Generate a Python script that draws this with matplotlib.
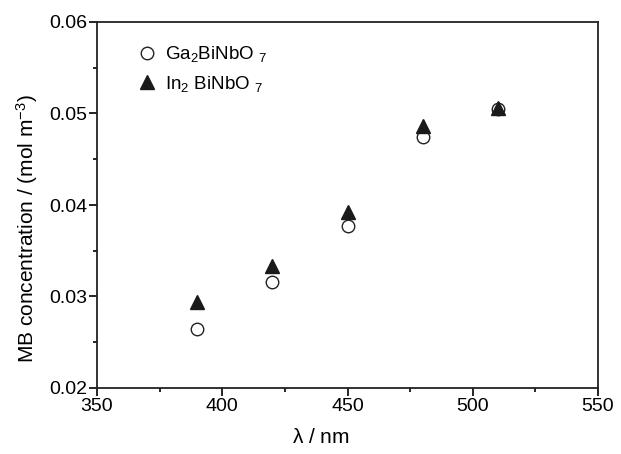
import numpy as np
import matplotlib
matplotlib.use("Agg")
import matplotlib.pyplot as plt
from matplotlib.ticker import MultipleLocator

plt.rcParams['font.family'] = ['Liberation Sans', 'DejaVu Sans']
plt.rcParams['mathtext.fontset'] = 'custom'
plt.rcParams['mathtext.rm'] = 'Liberation Sans'
plt.rcParams['mathtext.it'] = 'Liberation Sans'
plt.rcParams['mathtext.default'] = 'regular'

# wavelength (nm)
wavelength = [390, 420, 450, 480, 510]
# MB concentration (mol m^-3)
ga_conc = [0.0265, 0.0316, 0.0377, 0.0474, 0.0505]
in_conc = [0.0294, 0.0333, 0.0392, 0.0486, 0.0506]

fig = plt.figure(figsize=(6.21, 4.54), dpi=100)
ax = fig.add_axes([97 / 621, 1 - 388 / 454, 501 / 621, 366 / 454])

ax.plot(wavelength, ga_conc, 'o', ms=9, mfc='white', mec='#222222', mew=1.0,
        label=r'Ga$_2$BiNbO $_7$')
ax.plot(wavelength, in_conc, '^', ms=10.5, color='#1a1a1a',
        label=r'In$_2$ BiNbO $_7$')

ax.set_xlim(350, 550)
ax.set_ylim(0.02, 0.06)
ax.xaxis.set_major_locator(MultipleLocator(50))
ax.xaxis.set_minor_locator(MultipleLocator(25))
ax.yaxis.set_major_locator(MultipleLocator(0.01))
ax.yaxis.set_minor_locator(MultipleLocator(0.005))
ax.set_yticklabels(['%.2f' % v for v in ax.get_yticks()])

ax.tick_params(which='major', direction='out', length=6, width=1.2, labelsize=14, pad=1)
ax.tick_params(which='minor', direction='out', length=3, width=1.2)
for s in ax.spines.values():
    s.set_linewidth(1.3)
    s.set_color('#222222')

ax.set_xlabel(r'$\lambda$ / nm', fontsize=15)
ax.set_ylabel(r'MB concentration / (mol m$^{-3}$)', fontsize=15)
# labels sit a bit off-centre in the original
ax.xaxis.set_label_coords(0.447, -0.108)
ax.yaxis.set_label_coords(-0.113, 0.435)

ax.legend(loc='upper left', bbox_to_anchor=(0.043, 0.985), frameon=False,
          fontsize=13.5, handlelength=1.2, handletextpad=0.4, labelspacing=0.5)

fig.savefig('out.png', dpi=100)
